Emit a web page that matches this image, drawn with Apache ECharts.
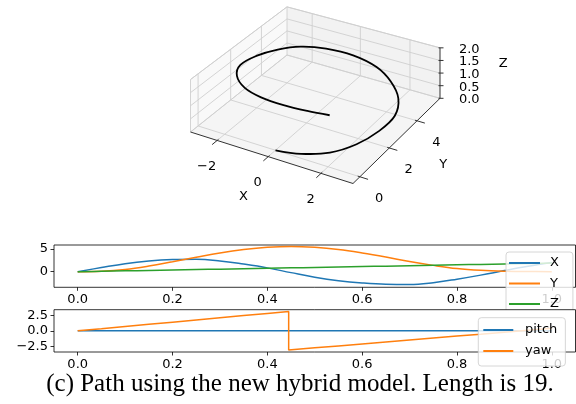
<!DOCTYPE html>
<html>
<head>
<meta charset="utf-8">
<script src="https://cdn.jsdelivr.net/npm/echarts@6/dist/echarts.min.js"></script>
<style>
html, body { margin: 0; padding: 0; background: #fff; }
#chart { width: 576px; height: 404px; }
</style>
</head>
<body>
<div id="chart"></div>
<script>
// path samples
var t = [0, 0.05, 0.1, 0.15, 0.2, 0.25, 0.3, 0.35, 0.4, 0.45, 0.5, 0.55, 0.6, 0.65, 0.7, 0.75, 0.8, 0.85, 0.9, 0.95, 1.0];
var pathX = [0, 0.92, 1.78, 2.36, 2.68, 2.75, 2.38, 1.68, 0.85, -0.2, -1.2, -1.97, -2.48, -2.78, -2.83, -2.42, -1.65, -0.75, 0.25, 1.2, 2.05];
var pathY = [0, 0.1, 0.5, 1.25, 2.2, 3.2, 4.15, 4.9, 5.4, 5.58, 5.38, 4.9, 4.15, 3.25, 2.25, 1.4, 0.7, 0.3, 0.1, 0.03, 0.02];
var pathZ = [0, 0.095, 0.19, 0.285, 0.38, 0.475, 0.57, 0.665, 0.76, 0.855, 0.95, 1.045, 1.14, 1.235, 1.33, 1.425, 1.52, 1.615, 1.71, 1.805, 1.9];
var pitch = [0, 0, 0, 0, 0, 0, 0, 0, 0, 0, 0, 0, 0, 0, 0, 0, 0, 0, 0, 0, 0];
var yawT = [0, 0.05, 0.1, 0.15, 0.2, 0.25, 0.3, 0.35, 0.4, 0.445, 0.445, 0.5, 0.55, 0.6, 0.65, 0.7, 0.75, 0.8, 0.85, 0.9, 0.95, 1.0];
var yaw = [0, 0.35, 0.71, 1.06, 1.41, 1.76, 2.12, 2.47, 2.82, 3.14, -3.1, -2.75, -2.44, -2.12, -1.8, -1.49, -1.17, -0.85, -0.54, -0.22, 0.1, 0.41];

var tTicks = [0, 0.2, 0.4, 0.6, 0.8, 1.0];
var posTicks = [0, 5];
var angTicks = [-2.5, 0, 2.5];
var xTicks3d = [-2, 0, 2];
var yTicks3d = [0, 2, 4];
var zTicks3d = [0, 0.5, 1, 1.5, 2];
var caption = '(c) Path using the new hybrid model. Length is 19.';

var FONT = 'DejaVu Sans';
var MINUS = '\u2212';
function fmt(v, d) { var s = Math.abs(v).toFixed(d); return v < 0 ? MINUS + s : s; }

// 3d view: floor corners on the page and box height, matplotlib-like perspective
var lim = { x: [-3.07, 3.18], y: [-0.45, 5.75], z: [0, 2] };
var C0 = [190.5, 132], C1 = [353, 183.5], C2 = [440, 98.3], C3 = [287, 55];
var zH = 52.5;
var dx1 = C1[0] - C2[0], dx2 = C3[0] - C2[0], dx3 = C0[0] - C1[0] + C2[0] - C3[0];
var dy1 = C1[1] - C2[1], dy2 = C3[1] - C2[1], dy3 = C0[1] - C1[1] + C2[1] - C3[1];
var den = dx1 * dy2 - dx2 * dy1;
var hg = (dx3 * dy2 - dx2 * dy3) / den, hh = (dx1 * dy3 - dx3 * dy1) / den;
var ha = C1[0] - C0[0] + hg * C1[0], hb = C3[0] - C0[0] + hh * C3[0], hc = C0[0];
var hd = C1[1] - C0[1] + hg * C1[1], he = C3[1] - C0[1] + hh * C3[1], hf = C0[1];

function proj(x, y, z) {
  var u = (x - lim.x[0]) / (lim.x[1] - lim.x[0]);
  var v = (y - lim.y[0]) / (lim.y[1] - lim.y[0]);
  var s = (z - lim.z[0]) / (lim.z[1] - lim.z[0]);
  var w = hg * u + hh * v + 1;
  return [(ha * u + hb * v + hc) / w, (hd * u + he * v + hf) / w - zH * s / w];
}

var x0 = lim.x[0], x1 = lim.x[1], y0 = lim.y[0], y1 = lim.y[1], z0 = lim.z[0], z1 = lim.z[1];

function poly(pts) {
  var out = [];
  pts.forEach(function (p) { var q = proj(p[0], p[1], p[2]); out.push(q[0], q[1]); });
  return out;
}
var panes = [
  poly([[x0, y0, z0], [x1, y0, z0], [x1, y1, z0], [x0, y1, z0]]),
  poly([[x0, y0, z0], [x0, y1, z0], [x0, y1, z1], [x0, y0, z1]]),
  poly([[x0, y1, z0], [x1, y1, z0], [x1, y1, z1], [x0, y1, z1]])
];
var paneColors = ['#f5f5f5', '#f9f9f9', '#f2f2f2'];

var lightSegs = [], darkSegs = [];
function seg(list, a, b) {
  var p = proj(a[0], a[1], a[2]), q = proj(b[0], b[1], b[2]);
  list.push([p[0], p[1], q[0], q[1]]);
}
xTicks3d.forEach(function (v) { seg(lightSegs, [v, y0, z0], [v, y1, z0]); seg(lightSegs, [v, y1, z0], [v, y1, z1]); });
yTicks3d.forEach(function (v) { seg(lightSegs, [x0, v, z0], [x1, v, z0]); seg(lightSegs, [x0, v, z0], [x0, v, z1]); });
zTicks3d.forEach(function (v) { seg(lightSegs, [x0, y0, v], [x0, y1, v]); seg(lightSegs, [x0, y1, v], [x1, y1, v]); });
seg(lightSegs, [x0, y0, z0], [x0, y0, z1]);
seg(lightSegs, [x0, y1, z0], [x0, y1, z1]);
seg(lightSegs, [x0, y0, z1], [x0, y1, z1]);
seg(lightSegs, [x0, y1, z1], [x1, y1, z1]);
seg(lightSegs, [x0, y0, z0], [x0, y1, z0]);
seg(lightSegs, [x0, y1, z0], [x1, y1, z0]);

seg(darkSegs, [x0, y0, z0], [x1, y0, z0]);
seg(darkSegs, [x1, y0, z0], [x1, y1, z0]);
seg(darkSegs, [x1, y1, z0], [x1, y1, z1]);
xTicks3d.forEach(function (v) { seg(darkSegs, [v, y0 + 0.08, z0], [v, y0 - 0.3, z0]); });
yTicks3d.forEach(function (v) { seg(darkSegs, [x1 - 0.08, v, z0], [x1 + 0.3, v, z0]); });
zTicks3d.forEach(function (v) { var p = proj(x1, y1, v); darkSegs.push([p[0] - 1.5, p[1], p[0] + 3.5, p[1]]); });

var labelPos = [], labelText = [];
function addLabel(p, dx, dy, txt) { labelPos.push([p[0] + dx, p[1] + dy]); labelText.push(txt); }
xTicks3d.forEach(function (v) { addLabel(proj(v, y0, z0), -10.5, 26.3, fmt(v, 0)); });
yTicks3d.forEach(function (v) { addLabel(proj(x1, v, z0), 19.3, 21.8, fmt(v, 0)); });
zTicks3d.forEach(function (v) { addLabel(proj(x1, y1, v), 29.3, 1.5, fmt(v, 1)); });
addLabel(proj((x0 + x1) / 2, y0, z0), -26.3, 39.7, 'X');
addLabel(proj(x1, (y0 + y1) / 2, z0), 44.8, 26, 'Y');
addLabel(proj(x1, y1, 1), 63.3, -9.8, 'Z');

var curve = t.map(function (v, i) { return proj(pathX[i], pathY[i], pathZ[i]); });

function pairs(xs, ys) { return xs.map(function (v, i) { return [v, ys[i]]; }); }

function tAxis(gi) {
  return {
    type: 'value', gridIndex: gi, min: -0.05, max: 1.05,
    axisLine: { show: false, onZero: false },
    splitLine: { show: false },
    axisTick: { show: true, customValues: tTicks, length: 3.5, lineStyle: { color: '#000', width: 0.8 } },
    axisLabel: { customValues: tTicks, formatter: function (v) { return fmt(v, 1); }, color: '#000', fontFamily: FONT, fontSize: 13, margin: 6 }
  };
}
function vAxis(gi, mn, mx, ticks, dec) {
  return {
    type: 'value', gridIndex: gi, min: mn, max: mx,
    axisLine: { show: false, onZero: false },
    splitLine: { show: false },
    axisTick: { show: true, customValues: ticks, length: 3.5, lineStyle: { color: '#000', width: 0.8 } },
    axisLabel: { customValues: ticks, formatter: function (v) { return fmt(v, dec); }, color: '#000', fontFamily: FONT, fontSize: 13, margin: 6 }
  };
}
function lineSeries(name, gi, data, color, smooth, z) {
  return {
    name: name, type: 'line', xAxisIndex: gi, yAxisIndex: gi, data: data,
    smooth: smooth, showSymbol: false, symbol: 'none', z: z,
    color: color, lineStyle: { color: color, width: 1.5 }, itemStyle: { color: color }
  };
}

var option = {
  animation: false,
  backgroundColor: '#fff',
  grid: [
    { left: 54, top: 245, width: 521.5, height: 42.3, show: true, backgroundColor: '#fff', borderColor: '#000', borderWidth: 0.8, outerBoundsMode: 'none' },
    { left: 54, top: 309.7, width: 521.5, height: 42.3, show: true, backgroundColor: '#fff', borderColor: '#000', borderWidth: 0.8, z: 6, outerBoundsMode: 'none' },
    { left: 0, top: 0, width: 576, height: 404, show: false, outerBoundsMode: 'none' }
  ],
  xAxis: [
    tAxis(0), tAxis(1),
    { type: 'value', gridIndex: 2, min: 0, max: 576, show: false }
  ],
  yAxis: [
    vAxis(0, -3.44, 5.9, posTicks, 0),
    vAxis(1, -3.42, 3.42, angTicks, 1),
    { type: 'value', gridIndex: 2, min: 0, max: 404, inverse: true, show: false }
  ],
  legend: [
    {
      data: ['X', 'Y', 'Z'], orient: 'vertical', left: 506, top: 252, z: 4,
      icon: 'rect', itemWidth: 31, itemHeight: 2, itemGap: 4.5,
      padding: [3, 14, 6, 3],
      backgroundColor: 'rgba(255,255,255,0.8)', borderColor: '#cccccc', borderWidth: 0.8, borderRadius: 3,
      textStyle: { color: '#000', fontFamily: FONT, fontSize: 13, lineHeight: 16, padding: [0, 0, 0, 5] },
      selectedMode: false
    },
    {
      data: ['pitch', 'yaw'], orient: 'vertical', left: 478.3, top: 317.7, z: 8,
      icon: 'rect', itemWidth: 30, itemHeight: 2, itemGap: 5,
      padding: [4.3, 8, 7, 5],
      backgroundColor: 'rgba(255,255,255,0.8)', borderColor: '#cccccc', borderWidth: 0.8, borderRadius: 3,
      textStyle: { color: '#000', fontFamily: FONT, fontSize: 13, lineHeight: 16, padding: [0, 0, 0, 6.7] },
      selectedMode: false
    }
  ],
  graphic: [
    {
      type: 'text', x: 300, y: 384, z: 10,
      style: { text: caption, font: '25px "Liberation Serif"', fill: '#000', align: 'center', verticalAlign: 'middle' }
    }
  ],
  series: [
    lineSeries('X', 0, pairs(t, pathX), '#1f77b4', 0.4, 2),
    lineSeries('Y', 0, pairs(t, pathY), '#ff7f0e', 0.4, 2),
    lineSeries('Z', 0, pairs(t, pathZ), '#2ca02c', 0.4, 2),
    lineSeries('pitch', 1, pairs(t, pitch), '#1f77b4', false, 7),
    lineSeries('yaw', 1, pairs(yawT, yaw), '#ff7f0e', false, 7),
    {
      type: 'custom', xAxisIndex: 2, yAxisIndex: 2, silent: true, z: 1,
      data: panes,
      renderItem: function (params, api) {
        var pts = [];
        for (var k = 0; k < 8; k += 2) pts.push(api.coord([api.value(k), api.value(k + 1)]));
        return { type: 'polygon', shape: { points: pts }, style: { fill: paneColors[params.dataIndex] } };
      }
    },
    {
      type: 'custom', xAxisIndex: 2, yAxisIndex: 2, silent: true, z: 1.5,
      data: lightSegs,
      renderItem: function (params, api) {
        var p = api.coord([api.value(0), api.value(1)]), q = api.coord([api.value(2), api.value(3)]);
        return { type: 'line', shape: { x1: p[0], y1: p[1], x2: q[0], y2: q[1] }, style: { stroke: '#cfcfcf', lineWidth: 0.9 } };
      }
    },
    {
      type: 'custom', xAxisIndex: 2, yAxisIndex: 2, silent: true, z: 2,
      data: darkSegs,
      renderItem: function (params, api) {
        var p = api.coord([api.value(0), api.value(1)]), q = api.coord([api.value(2), api.value(3)]);
        return { type: 'line', shape: { x1: p[0], y1: p[1], x2: q[0], y2: q[1] }, style: { stroke: '#333', lineWidth: 1 } };
      }
    },
    {
      // the 3d path, drawn as one smooth polyline through the projected samples
      type: 'custom', xAxisIndex: 2, yAxisIndex: 2, silent: true, z: 3,
      data: curve,
      renderItem: function (params, api) {
        if (params.dataIndex !== 0) return null;
        var pts = curve.map(function (p) { return api.coord(p); });
        return {
          type: 'polyline', shape: { points: pts, smooth: 0.35 },
          style: { stroke: '#000', lineWidth: 1.8, fill: null, lineJoin: 'round' }
        };
      }
    },
    {
      type: 'custom', xAxisIndex: 2, yAxisIndex: 2, silent: true, z: 3,
      data: labelPos,
      renderItem: function (params, api) {
        var p = api.coord([api.value(0), api.value(1)]);
        return {
          type: 'text', x: p[0], y: p[1],
          style: { text: labelText[params.dataIndex], fill: '#000', font: '13px "' + FONT + '"', align: 'center', verticalAlign: 'middle' }
        };
      }
    }
  ]
};

var chart = echarts.init(document.getElementById('chart'));
chart.setOption(option);
</script>
</body>
</html>
